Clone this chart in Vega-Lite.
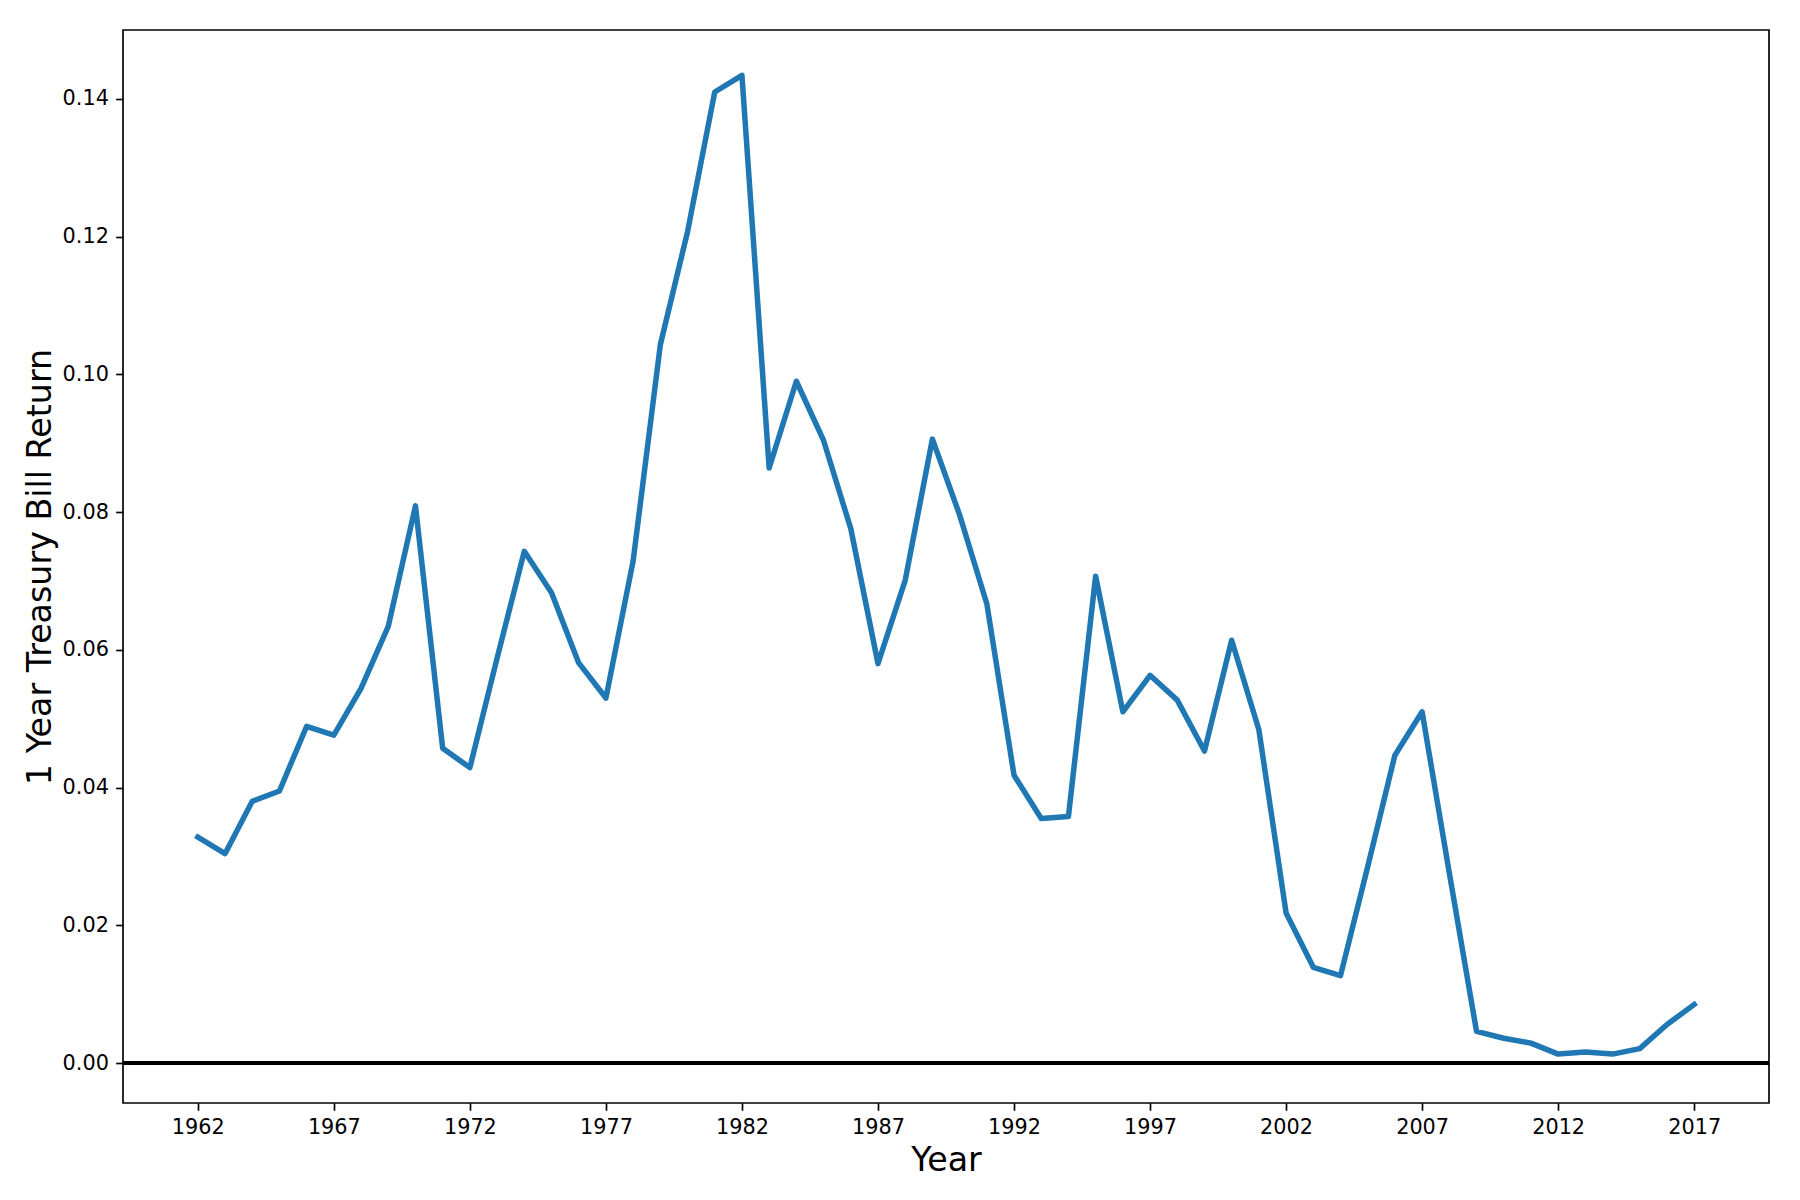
{
  "$schema": "https://vega.github.io/schema/vega-lite/v6.json",
  "autosize": {"type": "none"},
  "padding": {"left": 123, "top": 30, "right": 31, "bottom": 97},
  "width": 1646,
  "height": 1073,
  "background": "white",
  "config": {
    "view": {"stroke": "#000000", "strokeWidth": 1.67},
    "font": "DejaVu Sans",
    "axis": {
      "grid": false,
      "domain": false,
      "labelFont": "DejaVu Sans",
      "labelFontSize": 20.8,
      "labelColor": "#000000",
      "labelPadding": 7.3,
      "tickColor": "#000000",
      "tickSize": 7.3,
      "tickWidth": 1.67,
      "titleFont": "DejaVu Sans",
      "titleFontSize": 33.3,
      "titleFontWeight": "normal",
      "titleColor": "#000000"
    }
  },
  "data": {
    "values": [
      {"year": 1962, "ret": 0.0328},
      {"year": 1963, "ret": 0.0304},
      {"year": 1964, "ret": 0.0380},
      {"year": 1965, "ret": 0.0395},
      {"year": 1966, "ret": 0.0489},
      {"year": 1967, "ret": 0.0476},
      {"year": 1968, "ret": 0.0544},
      {"year": 1969, "ret": 0.0634},
      {"year": 1970, "ret": 0.0809},
      {"year": 1971, "ret": 0.0457},
      {"year": 1972, "ret": 0.0429},
      {"year": 1973, "ret": 0.0588},
      {"year": 1974, "ret": 0.0743},
      {"year": 1975, "ret": 0.0683},
      {"year": 1976, "ret": 0.0581},
      {"year": 1977, "ret": 0.0530},
      {"year": 1978, "ret": 0.0729},
      {"year": 1979, "ret": 0.1043},
      {"year": 1980, "ret": 0.1207},
      {"year": 1981, "ret": 0.1410},
      {"year": 1982, "ret": 0.1434},
      {"year": 1983, "ret": 0.0864},
      {"year": 1984, "ret": 0.0990},
      {"year": 1985, "ret": 0.0904},
      {"year": 1986, "ret": 0.0776},
      {"year": 1987, "ret": 0.0580},
      {"year": 1988, "ret": 0.0701},
      {"year": 1989, "ret": 0.0906},
      {"year": 1990, "ret": 0.0796},
      {"year": 1991, "ret": 0.0667},
      {"year": 1992, "ret": 0.0418},
      {"year": 1993, "ret": 0.0355},
      {"year": 1994, "ret": 0.0358},
      {"year": 1995, "ret": 0.0707},
      {"year": 1996, "ret": 0.0510},
      {"year": 1997, "ret": 0.0563},
      {"year": 1998, "ret": 0.0527},
      {"year": 1999, "ret": 0.0453},
      {"year": 2000, "ret": 0.0614},
      {"year": 2001, "ret": 0.0484},
      {"year": 2002, "ret": 0.0218},
      {"year": 2003, "ret": 0.0139},
      {"year": 2004, "ret": 0.0127},
      {"year": 2005, "ret": 0.0285},
      {"year": 2006, "ret": 0.0447},
      {"year": 2007, "ret": 0.0510},
      {"year": 2008, "ret": 0.0276},
      {"year": 2009, "ret": 0.0046},
      {"year": 2010, "ret": 0.0036},
      {"year": 2011, "ret": 0.0029},
      {"year": 2012, "ret": 0.0013},
      {"year": 2013, "ret": 0.0016},
      {"year": 2014, "ret": 0.0013},
      {"year": 2015, "ret": 0.0021},
      {"year": 2016, "ret": 0.0056},
      {"year": 2017, "ret": 0.0085}
    ]
  },
  "layer": [
    {
      "mark": {"type": "line", "color": "#1f77b4", "strokeWidth": 5.5, "strokeCap": "square", "strokeJoin": "round", "clip": true},
      "encoding": {
        "x": {
          "field": "year", "type": "quantitative",
          "scale": {"domain": [1959.25, 2019.75], "nice": false, "zero": false},
          "axis": {
            "title": "Year",
            "values": [1962, 1967, 1972, 1977, 1982, 1987, 1992, 1997, 2002, 2007, 2012, 2017],
            "format": "d",
            "titleX": 823, "titleY": 67.7, "titleAnchor": null, "titleAlign": "center", "titleBaseline": "alphabetic"
          }
        },
        "y": {
          "field": "ret", "type": "quantitative",
          "scale": {"domain": [-0.0058, 0.15], "nice": false, "zero": false},
          "axis": {
            "title": "1 Year Treasury Bill Return",
            "values": [0, 0.02, 0.04, 0.06, 0.08, 0.10, 0.12, 0.14],
            "format": ".2f",
            "titleX": -73, "titleY": 536.5, "titleAngle": -90, "titleAlign": "center", "titleBaseline": "alphabetic"
          }
        }
      }
    },
    {
      "mark": {"type": "rule", "color": "#000000", "strokeWidth": 3.1},
      "encoding": {
        "y": {"datum": 0}
      }
    }
  ]
}
